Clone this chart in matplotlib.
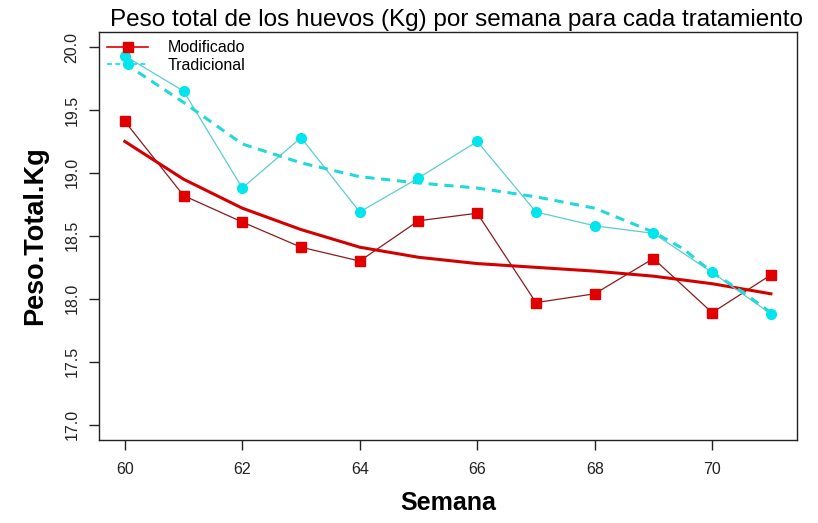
import matplotlib
matplotlib.use("Agg")
import matplotlib.pyplot as plt

plt.rcParams['font.family'] = ['Liberation Sans', 'DejaVu Sans']

semana = [60, 61, 62, 63, 64, 65, 66, 67, 68, 69, 70, 71]
modificado = [19.41, 18.82, 18.61, 18.41, 18.30, 18.62, 18.68, 17.97, 18.04, 18.32, 17.89, 18.19]
tradicional = [19.93, 19.65, 18.88, 19.28, 18.69, 18.96, 19.25, 18.69, 18.58, 18.52, 18.21, 17.88]

# curvas suavizadas
semana_suave = [60, 61, 62, 63, 64, 65, 66, 67, 68, 69, 69.5, 70, 70.5, 71]
mod_suave = [19.25, 18.95, 18.72, 18.55, 18.41, 18.33, 18.28, 18.25, 18.22, 18.18, 18.15, 18.12, 18.08, 18.04]
trad_suave = [19.87, 19.56, 19.23, 19.08, 18.97, 18.92, 18.88, 18.81, 18.72, 18.53, 18.40, 18.21, 18.06, 17.89]

x_ticks = [60, 62, 64, 66, 68, 70]
y_ticks = [17.0, 17.5, 18.0, 18.5, 19.0, 19.5, 20.0]

fig = plt.figure(figsize=(8.18, 5.23), dpi=100)
ax = fig.add_axes([0.121, 0.159, 0.853, 0.78])

rojo = '#e00000'
cian = '#00e5ee'

ax.plot(semana, modificado, color='#8b1a1a', lw=0.9, zorder=2)
ax.plot(semana, modificado, ls='none', marker='s', ms=6.5, color=rojo, zorder=3)
ax.plot(semana_suave, mod_suave, color='#d40000', lw=2.2, zorder=2)

ax.plot(semana, tradicional, color='#5ccdcd', lw=0.9, zorder=2)
ax.plot(semana, tradicional, ls='none', marker='o', ms=7, color=cian, zorder=3)
ax.plot(semana_suave, trad_suave, color='#22d8d8', lw=2.2, ls=(0, (3, 2.2)), zorder=2)

ax.set_xlim(59.56, 71.44)
ax.set_ylim(16.88, 20.12)
ax.set_xticks(x_ticks)
ax.set_yticks(y_ticks)
ax.set_yticklabels(['%.1f' % v for v in y_ticks], rotation=90, va='center')
ax.tick_params(axis='both', direction='out', length=7, width=1, labelsize=11.5, colors='#222222')
ax.tick_params(axis='x', pad=9)
ax.tick_params(axis='y', pad=7)
for s in ax.spines.values():
    s.set_linewidth(1.0)
    s.set_color('#222222')

ax.set_xlabel('Semana', fontsize=18, fontweight='bold', labelpad=10)
ax.set_ylabel('Peso.Total.Kg', fontsize=19.5, fontweight='bold', labelpad=12)
fig.text(0.558, 0.962, 'Peso total de los huevos (Kg) por semana para cada tratamiento',
         ha='center', va='center', fontsize=17.5)

h1, = ax.plot([], [], color=rojo, lw=1.2, marker='s', ms=6.5)
h2, = ax.plot([], [], color=cian, lw=1.2, ls=(0, (3, 2)), marker='o', ms=7)
ax.legend([h1, h2], ['Modificado', 'Tradicional'], loc='upper left', frameon=False,
          fontsize=11.5, borderaxespad=0.0, handlelength=2.6, labelspacing=0.15,
          bbox_to_anchor=(0.002, 0.995), handletextpad=1.2)

fig.savefig('out.png', dpi=100)
